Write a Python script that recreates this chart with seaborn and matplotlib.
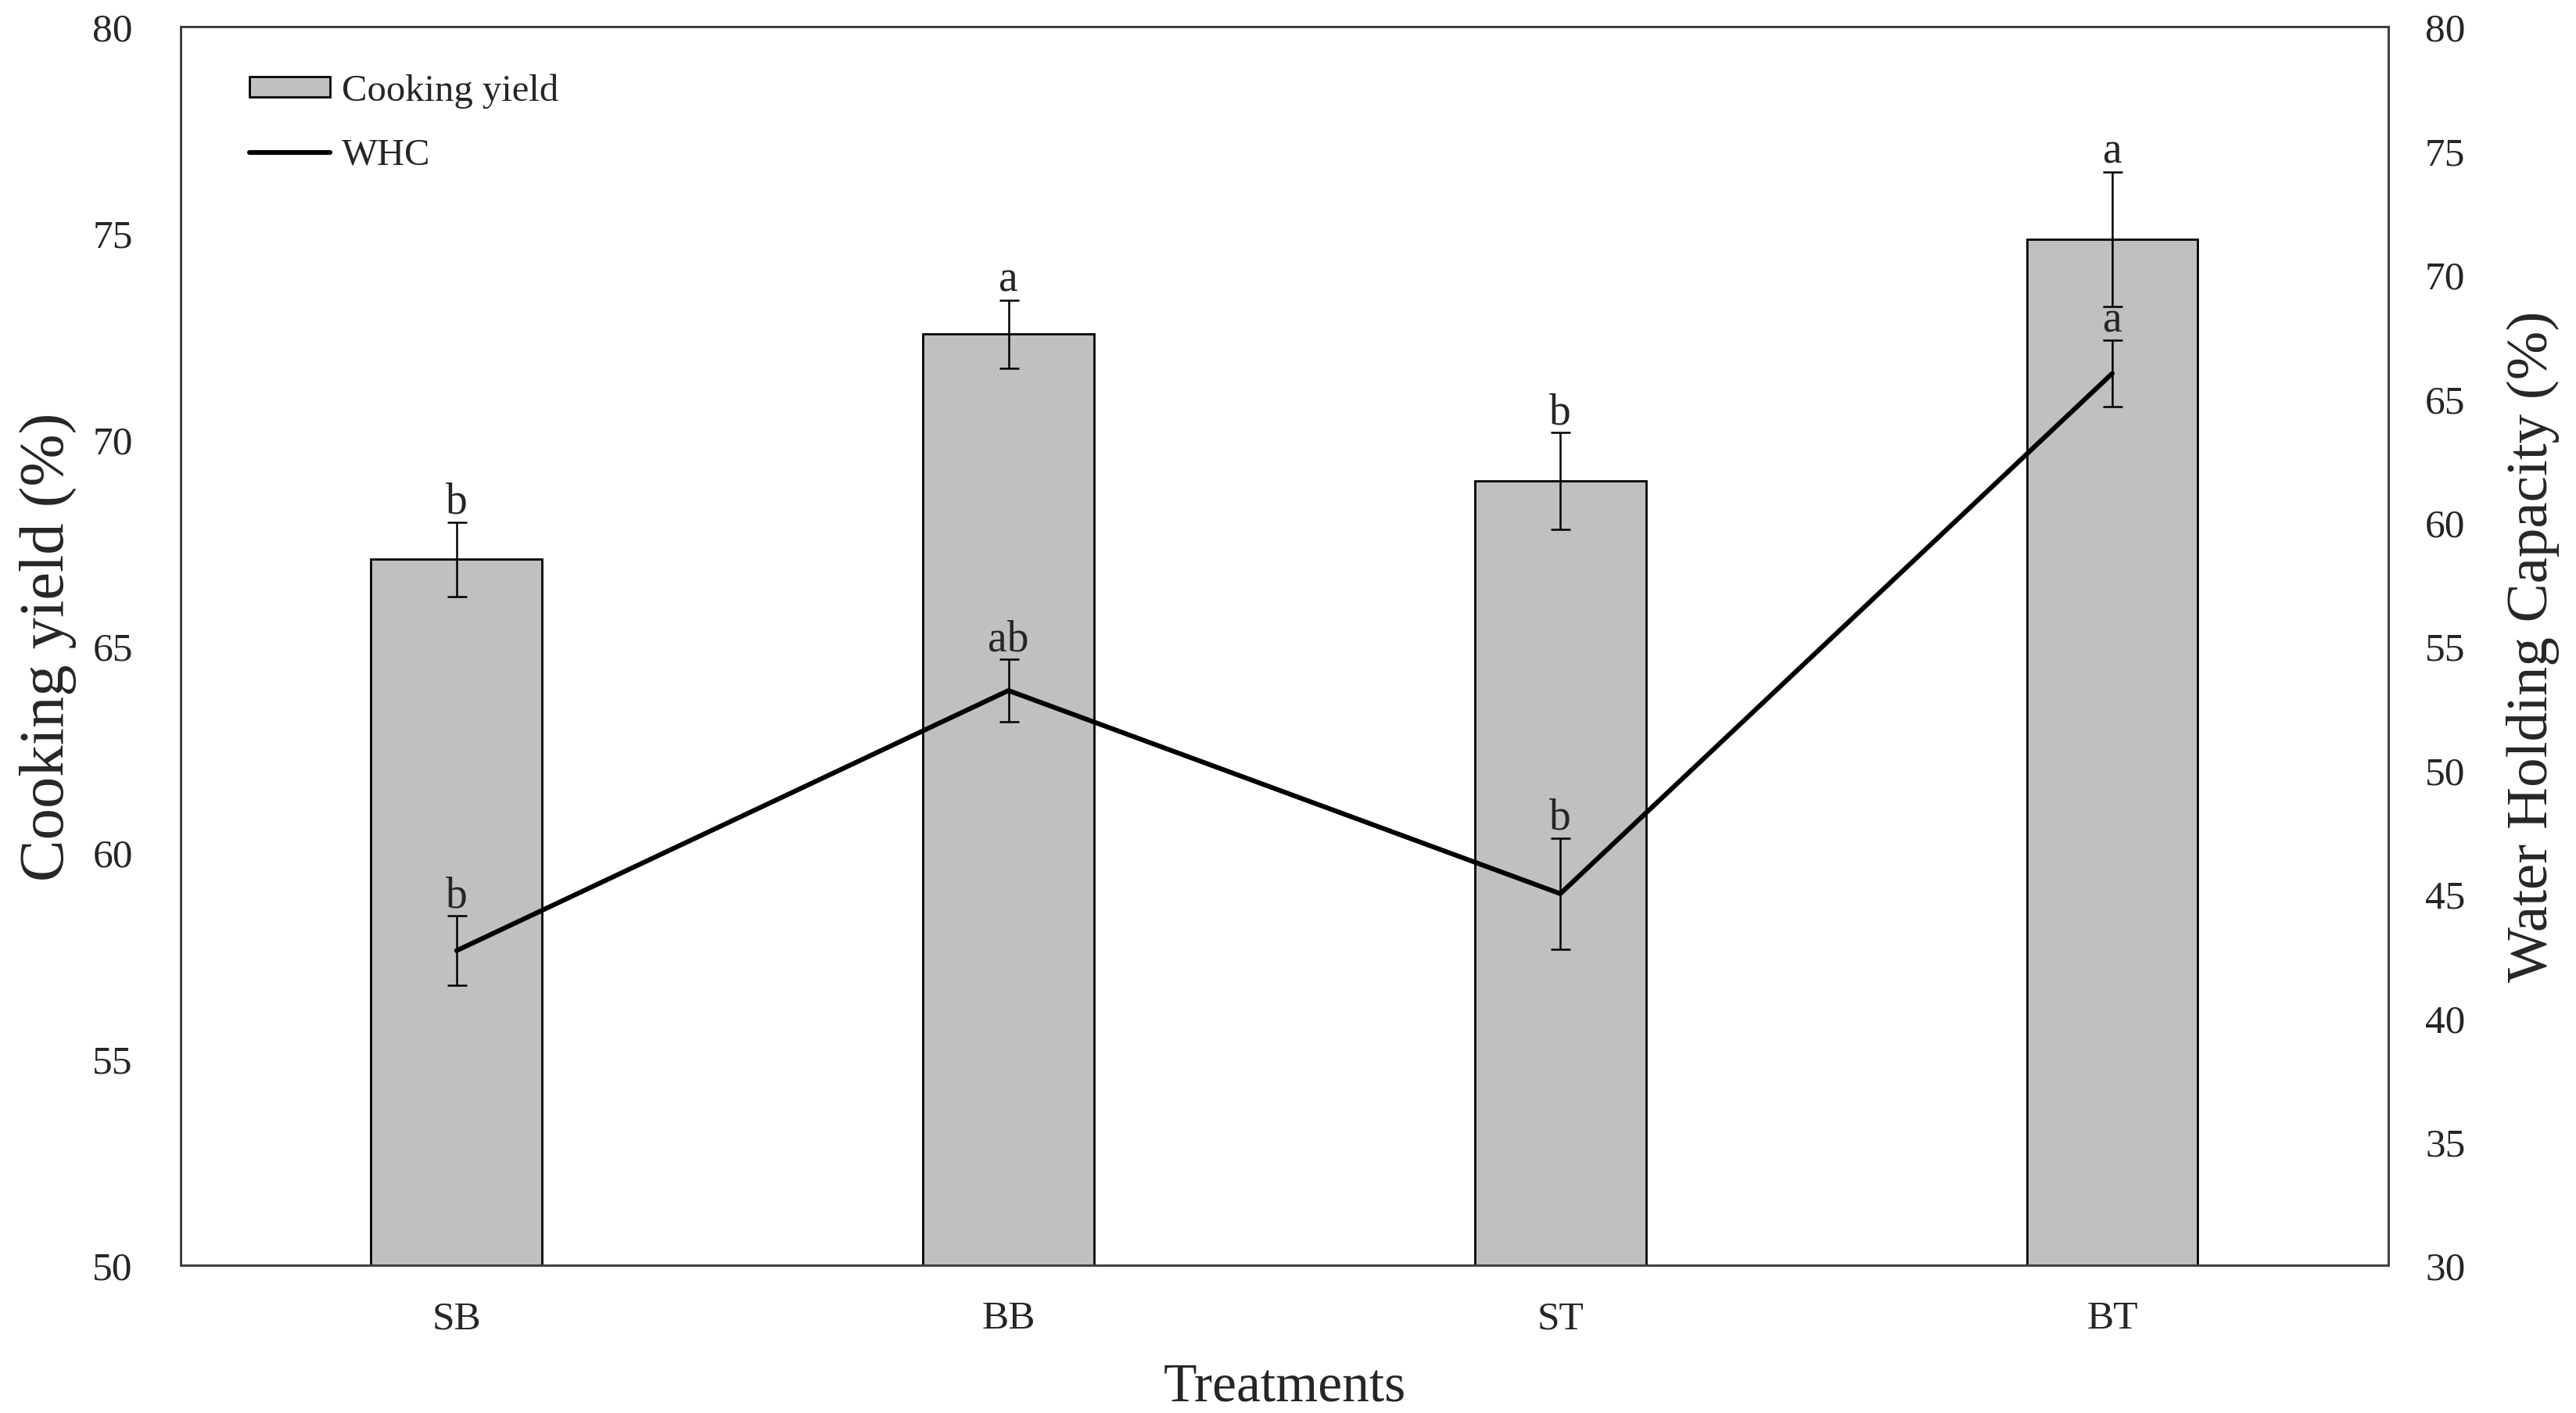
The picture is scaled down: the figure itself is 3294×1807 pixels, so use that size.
# -*- coding: utf-8 -*-

"""
Cooking yield (bars) and water holding capacity (line) for the four treatments.
"""

import numpy as np
import pandas as pd
import matplotlib.pyplot as plt
import seaborn as sns

# data
treatments = ['SB', 'BB', 'ST', 'BT']
cooking_yield = [67.1, 72.55, 69.0, 74.85]
cooking_sd = [0.9, 0.83, 1.17, 1.63]
cooking_letters = ['b', 'a', 'b', 'a']
whc = [42.7, 53.2, 45.0, 66.0]
whc_sd = [1.4, 1.25, 2.25, 1.33]
whc_letters = ['b', 'ab', 'b', 'a']

sns.set_style('white')
plt.rcParams['font.family'] = ['Liberation Serif', 'DejaVu Serif']

df = pd.DataFrame({'Treatment': treatments,
                   'Cooking yield': cooking_yield,
                   'WHC': whc})
df['pos'] = np.arange(len(df))

fig = plt.figure(figsize=(16.47, 9.04), dpi=200)
ax = fig.add_axes([0.0701, 0.1045, 0.857, 0.8761])

# 柱状图: cooking yield
sns.barplot(data=df, x='Treatment', y='Cooking yield', color='#c0c0c0',
            edgecolor='black', linewidth=1.0, width=0.31, saturation=1,
            errorbar=None, ax=ax, label='Cooking yield')
ax.errorbar(df['pos'], df['Cooking yield'], yerr=cooking_sd, fmt='none',
            ecolor='black', elinewidth=0.9, capsize=4.5, capthick=0.9)
for i in range(len(df)):
    ax.annotate(cooking_letters[i], (i, cooking_yield[i] + cooking_sd[i]),
                xytext=(0, 0), textcoords='offset points',
                ha='center', va='bottom', fontsize=20)

ax.set_xlim(-0.5, 3.5)
ax.set_ylim(50, 80)
ax.set_yticks(range(50, 81, 5))
ax.tick_params(axis='x', length=0, labelsize=18.5, pad=16)
ax.tick_params(axis='y', length=0, labelsize=18.5, pad=22)
ax.set_xlabel('Treatments', fontsize=25, labelpad=12)
ax.set_ylabel('Cooking yield (%)', fontsize=29)
ax.yaxis.set_label_coords(-0.047, 0.5)

# 折线图: WHC on the right axis
ax2 = ax.twinx()
sns.lineplot(data=df, x='pos', y='WHC', color='black', linewidth=2.2,
             sort=False, ax=ax2, label='WHC')
ax2.errorbar(df['pos'], df['WHC'], yerr=whc_sd, fmt='none',
             ecolor='black', elinewidth=0.9, capsize=4.5, capthick=0.9)
for i in range(len(df)):
    ax2.annotate(whc_letters[i], (i, whc[i] + whc_sd[i]),
                 xytext=(0, 0), textcoords='offset points',
                 ha='center', va='bottom', fontsize=20)

ax2.set_ylim(30, 80)
ax2.set_yticks(range(30, 81, 5))
ax2.tick_params(axis='y', length=0, labelsize=18.5, pad=17)
ax2.set_ylabel('Water Holding Capacity (%)', fontsize=27)
ax2.yaxis.set_label_coords(1.0535, 0.5)

for a in (ax, ax2):
    for sp in a.spines.values():
        sp.set_visible(True)
        sp.set_color('#404040')
        sp.set_linewidth(1.0)

# 合并图例
h1, l1 = ax.get_legend_handles_labels()
h2, l2 = ax2.get_legend_handles_labels()
if ax.get_legend() is not None:
    ax.get_legend().remove()
if ax2.get_legend() is not None:
    ax2.get_legend().remove()
ax2.legend(h1 + h2, l1 + l2, loc='upper left', bbox_to_anchor=(0.0244, 0.9745),
           borderaxespad=0, frameon=False, fontsize=17.5, handlelength=2.12,
           handleheight=0.47, handletextpad=0.3, labelspacing=0.77)

fig.savefig('out.png', dpi=200)
